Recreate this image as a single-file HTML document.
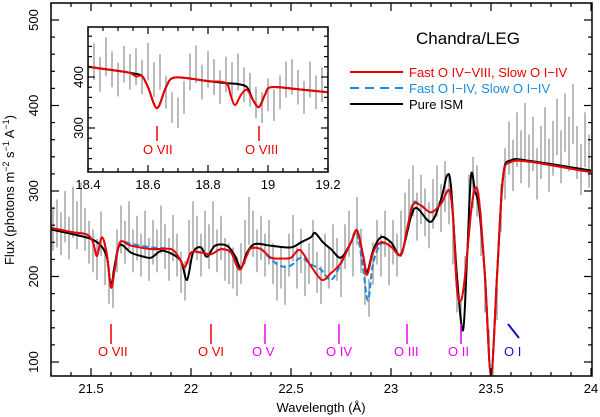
<!DOCTYPE html>
<html><head><meta charset="utf-8"><style>
html,body{margin:0;padding:0;background:#fff;}
svg{display:block;font-family:"Liberation Sans",Arial,sans-serif;}
</style></head><body>
<svg id="chart" width="600" height="417" viewBox="0 0 600 417">
<defs>
<clipPath id="mainclip"><rect x="51" y="3" width="541" height="373"/></clipPath>
<clipPath id="insetclip"><rect x="88" y="27" width="240" height="145"/></clipPath>
</defs>
<g id="main-data" clip-path="url(#mainclip)"></g>
<rect x="51" y="3" width="541" height="373" fill="none" stroke="#000" stroke-width="1.5"/>
<g id="main-axes"></g>
<rect x="88" y="27" width="240" height="145" fill="#fff" stroke="none"/>
<g id="inset-data" clip-path="url(#insetclip)"></g>
<rect x="88" y="27" width="240" height="145" fill="none" stroke="#000" stroke-width="1.5"/>
<g id="inset-axes"></g>
<text x="468" y="44" font-size="17" text-anchor="middle">Chandra/LEG</text>
<g>
<line x1="350" y1="72" x2="403" y2="72" stroke="#e00" stroke-width="2"/>
<text x="409" y="77" font-size="13" fill="#e00">Fast O IV−VIII, Slow O I−IV</text>
<line x1="350" y1="88" x2="403" y2="88" stroke="#1a8be0" stroke-width="2" stroke-dasharray="9,6"/>
<text x="409" y="93" font-size="13" fill="#1a8be0">Fast O I−IV, Slow O I−IV</text>
<line x1="350" y1="104" x2="403" y2="104" stroke="#000" stroke-width="2"/>
<text x="409" y="109" font-size="13" fill="#000">Pure ISM</text>
</g>
<text x="321" y="412" font-size="13" text-anchor="middle">Wavelength (Å)</text>
<text transform="translate(14,190) rotate(-90)" font-size="13" text-anchor="middle">Flux (photons m<tspan font-size="9" dy="-5">−2</tspan><tspan dy="5"> s</tspan><tspan font-size="9" dy="-5">−1</tspan><tspan dy="5"> A</tspan><tspan font-size="9" dy="-5">−1</tspan><tspan dy="5">)</tspan></text>
</svg>
<script>
// ---- main chart data ----
const mainWave0 = 21.31, mainWaveStep = 0.02;
const mainFlux = [255,262,250,270,245,275,260,280,255,240,230,220,250,215,190,185,230,255,240,260,230,245,225,250,220,240,230,255,235,220,245,225,205,195,240,260,245,225,250,235,260,230,245,220,215,210,200,215,240,265,250,230,245,225,240,215,195,210,190,225,245,210,230,200,215,240,205,190,225,210,235,220,200,235,250,225,265,230,190,175,215,240,225,250,215,240,225,250,270,285,300,270,290,275,260,285,300,280,305,290,240,180,150,200,290,310,300,250,180,120,100,170,280,320,350,330,360,340,370,335,355,320,345,365,330,350,375,340,380,355,390,345,325,360,335];
const mainErr = [25,28,25,30,25,30,28,30,25,25,25,24,26,25,22,22,25,28,25,28,25,26,25,27,25,26,25,28,26,25,27,25,24,23,26,28,26,25,27,26,28,25,26,25,24,24,23,24,26,28,27,25,26,25,26,24,23,24,23,25,27,24,26,23,24,26,24,22,25,24,26,25,24,26,27,25,28,26,23,22,25,26,25,27,25,26,25,27,28,29,30,28,29,28,27,29,30,28,30,29,26,22,20,24,29,30,30,26,22,18,16,21,28,30,31,30,32,31,33,31,32,30,31,33,31,32,33,31,34,32,35,31,30,32,31];
const redW = [21.3,21.4,21.48,21.51,21.53,21.555,21.58,21.6,21.62,21.645,21.7,21.8,21.9,21.94,21.97,22.0,22.05,22.1,22.15,22.2,22.23,22.25,22.28,22.3,22.35,22.4,22.45,22.5,22.545,22.6,22.655,22.7,22.75,22.8,22.83,22.86,22.88,22.91,22.95,23.0,23.05,23.08,23.11,23.15,23.2,23.25,23.29,23.31,23.33,23.35,23.37,23.4,23.42,23.44,23.47,23.5,23.53,23.56,23.6,23.7,23.8,23.9,24.0];
const redF = [257,252,249,240,224,246,225,187,210,240,236,232,232,222,211,228,228,226,232,228,212,209,225,233,232,222,221,222,231,212,196,204,216,240,254,225,202,228,240,235,225,255,284,283,275,285,301,270,185,172,200,275,303,290,200,85,200,315,334,334,330,326,322];
const blackW = [21.3,21.4,21.5,21.55,21.58,21.6,21.62,21.645,21.7,21.75,21.8,21.85,21.9,21.95,21.98,22.01,22.05,22.08,22.12,22.18,22.22,22.25,22.28,22.32,22.4,22.5,22.55,22.6,22.62,22.66,22.7,22.75,22.8,22.83,22.86,22.88,22.91,22.95,23.0,23.05,23.1,23.13,23.2,23.25,23.28,23.3,23.33,23.36,23.38,23.4,23.42,23.44,23.47,23.5,23.53,23.56,23.6,23.7,24.0];
const blackF = [255,250,244,236,222,190,215,237,228,224,222,230,227,218,196,228,234,223,236,236,224,210,228,238,236,234,240,246,251,240,232,222,240,254,225,205,230,246,240,226,270,280,264,290,318,305,200,137,220,318,300,280,200,85,200,317,336,335,324];
const blueW = [21.3,21.4,21.48,21.51,21.53,21.555,21.58,21.6,21.62,21.645,21.7,21.8,21.9,21.94,21.97,22.0,22.05,22.1,22.15,22.2,22.23,22.25,22.28,22.3,22.35,22.4,22.45,22.5,22.55,22.6,22.65,22.7,22.75,22.8,22.83,22.86,22.885,22.91,22.95,23.0,23.05,23.08,23.11,23.15,23.2,23.25,23.29,23.31,23.33,23.35,23.37,23.4,23.42,23.44,23.47,23.5,23.53,23.56,23.6,23.7,24.0];
const blueF = [257,252,249,240,226,246,225,188,210,240,238,234,232,222,212,228,228,226,232,228,212,209,225,233,232,220,212,213,222,214,208,196,215,240,250,210,172,215,238,235,225,255,286,283,275,285,300,270,185,172,200,275,301,290,200,86,200,315,334,334,322];
const lineIds = ["O VII","O VI","O V","O IV","O III","O II","O I"];
const lineWaves = [21.6,22.1,22.37,22.74,23.08,23.35,23.63];
const lineColors = ["#e00","#e00","#e0e","#e0e","#e0e","#e0e","#11c"];
const xTicks = [21.5,22,22.5,23,23.5,24];
const xTickLabels = ["21.5","22","22.5","23","23.5","24"];
const yTicks = [100,200,300,400,500];
const yTickLabels = ["100","200","300","400","500"];
// ---- inset data ----
const insetWave0 = 18.40, insetWaveStep = 0.02;
const insetFlux = [418,430,405,440,415,395,425,410,420,400,430,395,410,370,340,330,360,410,425,390,415,400,380,405,395,410,385,375,350,340,365,345,370,395,400,380,360,395,370,385,375];
const insetErr = [35,36,34,38,35,33,36,35,36,34,37,34,35,32,30,30,32,36,37,34,36,35,33,35,34,36,34,33,31,30,32,31,33,35,35,34,32,35,33,34,33];
const insetRedW = [18.4,18.5,18.54,18.56,18.58,18.6,18.63,18.66,18.69,18.8,18.86,18.875,18.89,18.91,18.93,18.95,18.97,18.99,19.01,19.1,19.2];
const insetRedF = [420,412,408,401,402,380,339,380,399,392,388,365,345,365,375,355,341,365,380,376,370];
const insetBlackW = [18.4,18.5,18.55,18.58,18.6,18.63,18.66,18.69,18.8,18.86,18.9,18.93,18.95,18.97,18.99,19.01,19.1,19.2];
const insetBlackF = [420,412,407,402,380,339,380,399,392,388,386,380,355,341,365,380,376,370];
const insetLineIds = ["O VII","O VIII"];
const insetLineWaves = [18.63,18.97];
const insetXTicks = [18.4,18.6,18.8,19,19.2];
const insetXTickLabels = ["18.4","18.6","18.8","19","19.2"];
const insetYTicks = [300,400];
const insetYTickLabels = ["300","400"];

const NS = "http://www.w3.org/2000/svg";
function mk(tag, attrs, parent){ const e=document.createElementNS(NS,tag); for(const k in attrs) e.setAttribute(k,attrs[k]); parent.appendChild(e); return e; }
const mx = w => 51 + (w-21.3)*200;
const my = f => 20 + (500-f)*0.855;
const ix = w => 88 + (w-18.4)*300;
const iy = f => 77 + (400-f)*0.51;

function smoothPath(ws, fs, X, Y){
  const p = ws.map((w,i)=>[X(w),Y(fs[i])]);
  let d = "M"+p[0][0].toFixed(1)+","+p[0][1].toFixed(1);
  for(let i=0;i<p.length-1;i++){
    const p0=p[Math.max(0,i-1)], p1=p[i], p2=p[i+1], p3=p[Math.min(p.length-1,i+2)];
    const t=0.16;
    const c1=[p1[0]+(p2[0]-p0[0])*t, p1[1]+(p2[1]-p0[1])*t];
    const c2=[p2[0]-(p3[0]-p1[0])*t, p2[1]-(p3[1]-p1[1])*t];
    d+=" C"+c1[0].toFixed(1)+","+c1[1].toFixed(1)+" "+c2[0].toFixed(1)+","+c2[1].toFixed(1)+" "+p2[0].toFixed(1)+","+p2[1].toFixed(1);
  }
  return d;
}

const gm = document.getElementById("main-data");
mainFlux.forEach((f,i)=>{
  const w = mainWave0 + i*mainWaveStep;
  const el = mk("line",{x1:mx(w),x2:mx(w),y1:my(f+mainErr[i]),y2:my(f-mainErr[i]),stroke:"#aaaaaa","stroke-width":1.6},gm);
  
  
});
let e;
e = mk("path",{d:smoothPath(blackW,blackF,mx,my),fill:"none",stroke:"#000","stroke-width":2},gm);


e = mk("path",{d:smoothPath(blueW,blueF,mx,my),fill:"none",stroke:"#1a8be0","stroke-width":2,"stroke-dasharray":"6,3"},gm);


e = mk("path",{d:smoothPath(redW,redF,mx,my),fill:"none",stroke:"#e00","stroke-width":2},gm);



const ga = document.getElementById("main-axes");
lineWaves.forEach((w,i)=>{
  const x = mx(w), c = lineColors[i];
  if(i===lineWaves.length-1){
    e = mk("line",{x1:x-9,y1:324,x2:x+2,y2:338,stroke:c,"stroke-width":2},ga);
  } else {
    e = mk("line",{x1:x,y1:324,x2:x,y2:344,stroke:c,"stroke-width":1.5},ga);
  }
  
  
  e = mk("text",{x:x-13,y:356,"font-size":13,fill:c},ga);
  e.textContent = lineIds[i];
  
  
});

for(let k=0;k<=27;k++){
  const w = 21.3 + k*0.1, x = mx(w);
  const major = Math.abs(w*2-Math.round(w*2))<1e-6;
  const len = major?8:4;
  mk("line",{x1:x,x2:x,y1:376,y2:376-len,stroke:"#000","stroke-width":1.2},ga);
  mk("line",{x1:x,x2:x,y1:3,y2:3+len,stroke:"#000","stroke-width":1.2},ga);
}
xTicks.forEach((w,i)=>{
  e = mk("text",{x:mx(w),y:393,"font-size":13,"text-anchor":"middle"},ga);
  e.textContent = xTickLabels[i];
  
  
});
for(let f=80; f<=520; f+=20){
  const y = my(f); if(y<3||y>376) continue;
  const len = (f%100===0)?8:4;
  mk("line",{x1:51,x2:51+len,y1:y,y2:y,stroke:"#000","stroke-width":1.2},ga);
  mk("line",{x1:592,x2:592-len,y1:y,y2:y,stroke:"#000","stroke-width":1.2},ga);
}
yTicks.forEach((f,i)=>{
  e = mk("text",{transform:"translate(38,"+my(f)+") rotate(-90)","font-size":13,"text-anchor":"middle"},ga);
  e.textContent = yTickLabels[i];
  
  
});

const gi = document.getElementById("inset-data");
insetFlux.forEach((f,i)=>{
  const w = insetWave0 + i*insetWaveStep;
  const el = mk("line",{x1:ix(w),x2:ix(w),y1:iy(f+insetErr[i]),y2:iy(f-insetErr[i]),stroke:"#aaaaaa","stroke-width":1.6},gi);
  
  
});
e = mk("path",{d:smoothPath(insetBlackW,insetBlackF,ix,iy),fill:"none",stroke:"#000","stroke-width":2},gi);


e = mk("path",{d:smoothPath(insetRedW,insetRedF,ix,iy),fill:"none",stroke:"#e00","stroke-width":2},gi);


const gia = document.getElementById("inset-axes");
insetLineWaves.forEach((w,i)=>{
  const x = ix(w);
  e = mk("line",{x1:x,x2:x,y1:126,y2:141,stroke:"#e00","stroke-width":1.5},gia);
  
  
  e = mk("text",{x:x-14,y:154,"font-size":13,fill:"#e00"},gia);
  e.textContent = insetLineIds[i];
  
  
});
for(let k=0;k<=16;k++){
  const w = 18.4 + k*0.05, x = ix(w);
  const len = (k%4===0)?7:4;
  mk("line",{x1:x,x2:x,y1:172,y2:172-len,stroke:"#000","stroke-width":1.2},gia);
  mk("line",{x1:x,x2:x,y1:27,y2:27+len,stroke:"#000","stroke-width":1.2},gia);
}
insetXTicks.forEach((w,i)=>{
  e = mk("text",{x:ix(w),y:189,"font-size":13,"text-anchor":"middle"},gia);
  e.textContent = insetXTickLabels[i];
  
  
});
for(let f=220; f<=500; f+=20){
  const y = iy(f); if(y<27||y>172) continue;
  const len = (f%100===0)?7:4;
  mk("line",{x1:88,x2:88+len,y1:y,y2:y,stroke:"#000","stroke-width":1.2},gia);
  mk("line",{x1:328,x2:328-len,y1:y,y2:y,stroke:"#000","stroke-width":1.2},gia);
}
insetYTicks.forEach((f,i)=>{
  e = mk("text",{transform:"translate(83,"+iy(f)+") rotate(-90)","font-size":13,"text-anchor":"middle"},gia);
  e.textContent = insetYTickLabels[i];
  
  
});
</script>
</body></html>
